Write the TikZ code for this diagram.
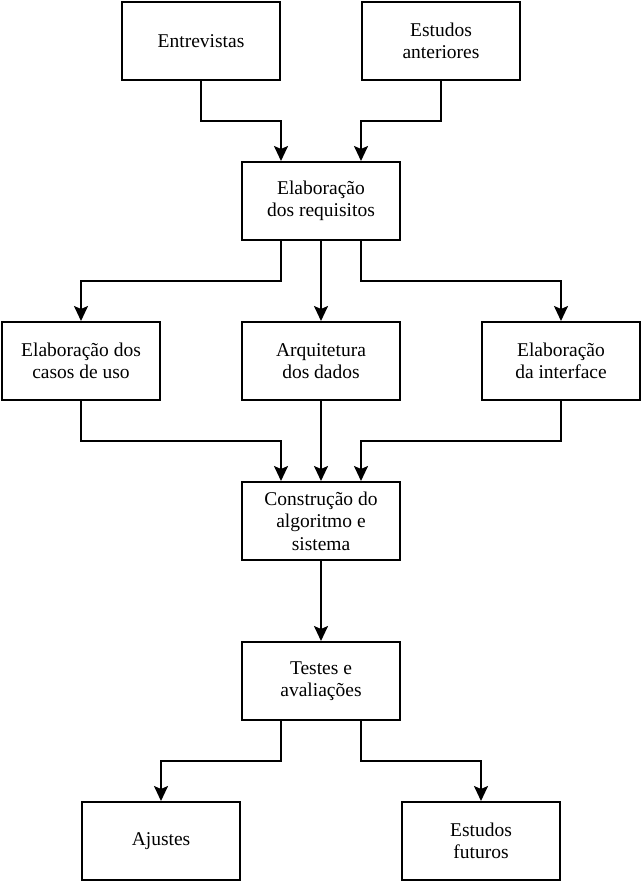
\documentclass[tikz,border=0pt]{standalone}
\usepackage{fontspec}
\setmainfont{Liberation Serif}
\usetikzlibrary{arrows.meta,positioning,calc}

\begin{document}
\begin{tikzpicture}[x=1pt,y=-1pt,
  caixa/.style={draw,line width=2pt,minimum width=158pt,minimum height=78pt,align=center,
    font=\fontsize{19.5}{22.5}\selectfont},
  seta/.style={line width=2pt,-{Stealth[length=15pt,width=14pt,inset=3pt]}}]
\useasboundingbox (0,0) rectangle (642,882);
% linha de cima
\node[caixa] (entrev) at (201,41) {Entrevistas};
\node[caixa] (estant) at (441,41) {Estudos\\anteriores};
\node[caixa] (requis) at (321,201) {Elaboração\\dos requisitos};
% linha do meio
\node[caixa] (casos) at (81,361) {Elaboração dos\\casos de uso};
\node[caixa] (arqui) at (321,361) {Arquitetura\\dos dados};
\node[caixa] (interf) at (561,361) {Elaboração\\da interface};
\node[caixa] (constr) at (321,521) {Construção do\\algoritmo e\\sistema};
\node[caixa] (testes) at (321,681) {Testes e\\avaliações};
% linha de baixo
\node[caixa] (ajust) at (161,841) {Ajustes};
\node[caixa] (futuros) at (481,841) {Estudos\\futuros};

\draw[seta] (entrev.south) -- ++(0,40) -| ([xshift=-40pt]requis.north);
\draw[seta] (estant.south) -- ++(0,40) -| ([xshift=40pt]requis.north);
\draw[seta] ([xshift=-40pt]requis.south) -- ++(0,40) -| (casos.north);
\draw[seta] (requis.south) -- (arqui.north);
\draw[seta] ([xshift=40pt]requis.south) -- ++(0,40) -| (interf.north);
\draw[seta] (casos.south) -- ++(0,40) -| ([xshift=-40pt]constr.north);
\draw[seta] (arqui.south) -- (constr.north);
\draw[seta] (interf.south) -- ++(0,40) -| ([xshift=40pt]constr.north);
\draw[seta] (constr.south) -- (testes.north);
\draw[seta] ([xshift=-40pt]testes.south) -- ++(0,40) -| (ajust.north);
\draw[seta] ([xshift=40pt]testes.south) -- ++(0,40) -| (futuros.north);
\end{tikzpicture}
\end{document}
